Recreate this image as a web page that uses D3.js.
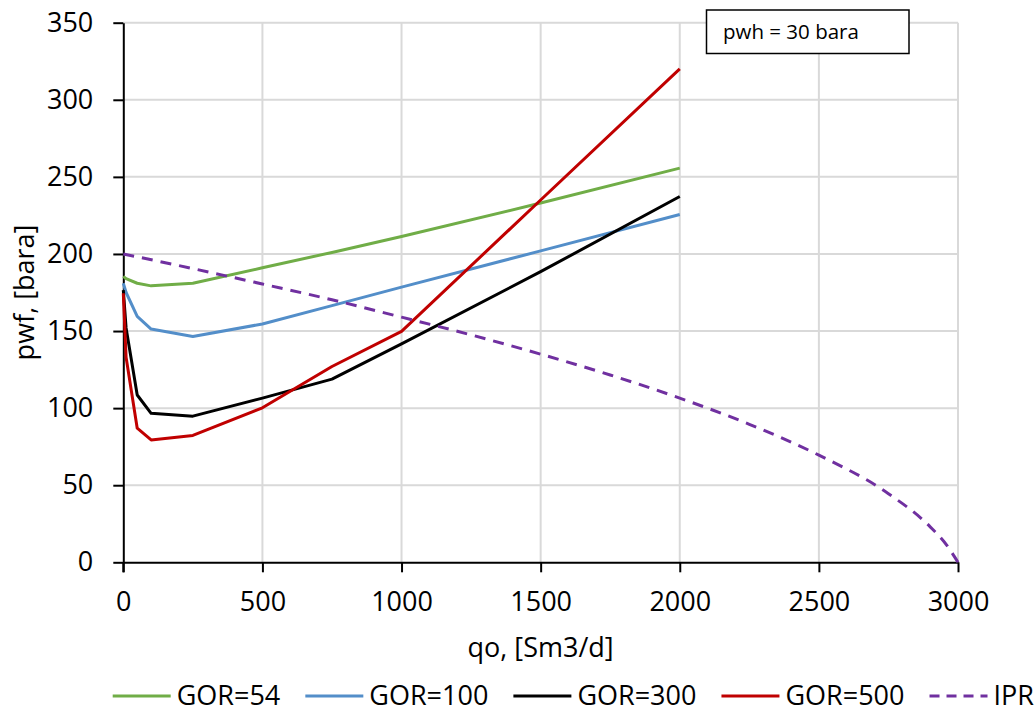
<!DOCTYPE html>
<html>
<head>
<meta charset="utf-8">
<script src="https://cdn.jsdelivr.net/npm/d3@7"></script>
<style>
  html, body { margin: 0; padding: 0; background: #fff; }
  svg { display: block; font-family: "Open Sans", "Noto Sans", sans-serif; }
</style>
</head>
<body>
<svg id="chart" width="1034" height="712"></svg>
<script>
// Data
const qo = [0, 10, 50, 100, 250, 500, 750, 1000, 1500, 2000];
const gor54 = [185.5, 184, 181, 179.3, 181, 191, 201, 211.3, 233, 255.7];
const gor100 = [181, 175, 159.5, 151.3, 146.5, 154.6, 166.5, 178.5, 202, 225.6];
const gor300 = [176.5, 152, 108.5, 96.6, 94.8, 106.5, 118.8, 141.7, 188.5, 237.3];
const gor500 = [174.5, 133, 87, 79.4, 82.3, 100.2, 127, 149.8, 235, 320];

const iprQ = [0, 250, 500, 750, 1000, 1250, 1500, 1750, 2000, 2250, 2500, 2750, 2900, 2960, 3000];
const iprP = [200, 190.5, 180.5, 170.3, 159, 147.5, 135, 121.5, 106.5, 89.5, 69.5, 44.5, 23, 11, 0];

const xTicks = [0, 500, 1000, 1500, 2000, 2500, 3000];
const yTicks = [0, 50, 100, 150, 200, 250, 300, 350];

const seriesNames = ["GOR=54", "GOR=100", "GOR=300", "GOR=500", "IPR"];
const seriesColors = ["#70ad47", "#538ec9", "#000000", "#c00000", "#7030a0"];

// build series
const series = [
  {name: seriesNames[0], q: qo, p: gor54},
  {name: seriesNames[1], q: qo, p: gor100},
  {name: seriesNames[2], q: qo, p: gor300},
  {name: seriesNames[3], q: qo, p: gor500},
  {name: seriesNames[4], q: iprQ, p: iprP, dashed: true}
].map((s, i) => {
  s.color = seriesColors[i];
  s.points = s.q.map((q, j) => ({q: q, p: s.p[j]}));
  return s;
});

// layout
const plot = {left: 123.3, top: 22.7, right: 958, bottom: 562.3};
const svg = d3.select("#chart");

const x = d3.scaleLinear().domain([0, 3000]).range([plot.left, plot.right]);
const y = d3.scaleLinear().domain([0, 350]).range([plot.bottom, plot.top]);

// grid
const grid = svg.append("g").attr("class", "grid");
grid.selectAll("line.h").data(yTicks.filter(d => d > 0)).enter().append("line")
  .attr("x1", plot.left).attr("x2", plot.right)
  .attr("y1", d => y(d)).attr("y2", d => y(d))
  .attr("stroke", "#d9d9d9").attr("stroke-width", 2);
grid.selectAll("line.v").data(xTicks.filter(d => d > 0)).enter().append("line")
  .attr("x1", d => x(d)).attr("x2", d => x(d))
  .attr("y1", plot.top).attr("y2", plot.bottom)
  .attr("stroke", "#d9d9d9").attr("stroke-width", 2);

// axes
const fontSize = 27;
const xAxis = svg.append("g")
  .attr("transform", `translate(0,${plot.bottom})`)
  .call(d3.axisBottom(x).tickValues(xTicks).tickFormat(d3.format("d"))
    .tickSize(10).tickSizeOuter(0).tickPadding(20));
const yAxis = svg.append("g")
  .attr("transform", `translate(${plot.left},0)`)
  .call(d3.axisLeft(y).tickValues(yTicks).tickFormat(d3.format("d"))
    .tickSize(10).tickSizeOuter(0).tickPadding(20));

for (let ax of [xAxis, yAxis]) {
  ax.select(".domain").attr("stroke", "#000").attr("stroke-width", 2);
  ax.selectAll(".tick line").attr("stroke", "#000").attr("stroke-width", 2);
  ax.selectAll(".tick text")
    .attr("fill", "#000")
    .style("font-size", fontSize + "px")
    .style("font-family", "'Open Sans', 'Noto Sans', sans-serif");
}
// extend the y axis line down to the x tick length
svg.append("line")
  .attr("x1", plot.left).attr("x2", plot.left)
  .attr("y1", plot.bottom).attr("y2", plot.bottom + 10)
  .attr("stroke", "#000").attr("stroke-width", 2);

// axis titles
svg.append("text")
  .attr("x", (plot.left + plot.right) / 2)
  .attr("y", 657)
  .attr("text-anchor", "middle")
  .style("font-size", fontSize + "px")
  .text("qo, [Sm3/d]");
svg.append("text")
  .attr("transform", `translate(34,${(plot.top + plot.bottom) / 2}) rotate(-90)`)
  .attr("text-anchor", "middle")
  .style("font-size", fontSize + "px")
  .text("pwf, [bara]");

// lines
const line = d3.line().x(d => x(d.q)).y(d => y(d.p));
const smooth = d3.line().x(d => x(d.q)).y(d => y(d.p)).curve(d3.curveMonotoneX);
svg.append("g").selectAll("path").data(series).enter().append("path")
  .attr("d", d => d.dashed ? smooth(d.points) : line(d.points))
  .attr("fill", "none")
  .attr("stroke", d => d.color)
  .attr("stroke-width", 3)
  .attr("stroke-linejoin", "round")
  .attr("stroke-dasharray", d => d.dashed ? "11,8" : null);

// annotation box
const note = svg.append("g");
note.append("rect")
  .attr("x", 706.5).attr("y", 10).attr("width", 202.5).attr("height", 43.5)
  .attr("fill", "#fff").attr("stroke", "#000").attr("stroke-width", 1.5);
note.append("text")
  .attr("x", 723).attr("y", 38.5)
  .style("font-size", "20.5px")
  .text("pwh = 30 bara");

// legend
const legend = svg.append("g").attr("transform", "translate(112.7,696)");
let lx = 0;
series.forEach(s => {
  const item = legend.append("g").attr("transform", `translate(${lx},0)`);
  item.append("line")
    .attr("x1", 0).attr("x2", 58)
    .attr("stroke", s.color).attr("stroke-width", 3)
    .attr("stroke-dasharray", s.dashed ? "10,7" : null);
  const t = item.append("text")
    .attr("x", 64).attr("y", 8.5)
    .style("font-size", fontSize + "px")
    .text(s.name);
  lx += 64 + t.node().getComputedTextLength() + 25;
});
</script>
</body>
</html>
